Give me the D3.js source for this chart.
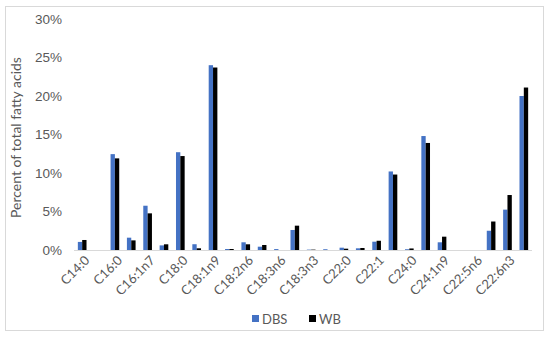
<!DOCTYPE html>
<html lang="en">
<head>
<meta charset="UTF-8" />
<title>Fatty acids DBS vs WB</title>
<script src="https://d3js.org/d3.v7.min.js"></script>
<style>
  body { margin: 0; background: #fff; }
  svg { font-family: Lato, "Open Sans", sans-serif; }
  .tick text { fill: #595959; }
</style>
</head>
<body>
<svg id="chart" width="550" height="339"></svg>
<script>
// 28 categories, Excel only shows every other label
const labels = ['C14:0', '', 'C16:0', '', 'C16:1n7', '', 'C18:0', '', 'C18:1n9', '',
  'C18:2n6', '', 'C18:3n6', '', 'C18:3n3', '', 'C22:0', '', 'C22:1', '',
  'C24:0', '', 'C24:1n9', '', 'C22:5n6', '', 'C22:6n3', '']
const dbs = [1.05, 0, 12.45, 1.6, 5.75, 0.6, 12.7, 0.75, 24.0, 0.13,
  1.0, 0.43, 0.12, 2.6, 0.05, 0.1, 0.3, 0.22, 1.08, 10.2,
  0.1, 14.8, 1.0, 0, 0, 2.5, 5.24, 20.0]
const wb = [1.3, 0, 11.9, 1.25, 4.76, 0.74, 12.2, 0.22, 23.7, 0.13,
  0.74, 0.65, 0, 3.16, 0.05, 0, 0.17, 0.26, 1.2, 9.8,
  0.2, 13.9, 1.73, 0, 0, 3.7, 7.14, 21.1]
const series = ['DBS', 'WB']
const colors = ['#4472C4', '#000000']
const yTicks = [0, 5, 10, 15, 20, 25, 30]

const svg = d3.select('#chart')
const margin = { left: 74, right: 18, top: 19, bottom: 89 }
const W = 550, H = 339

// chart frame
svg.append('rect')
  .attr('x', 5.5).attr('y', 6.5).attr('width', 538).attr('height', 324)
  .attr('fill', 'none').attr('stroke', '#d9d9d9')

const x = d3.scaleBand()
  .domain(d3.range(labels.length))
  .range([margin.left, W - margin.right])
  .paddingInner(0.47).paddingOuter(0.235)

const xs = d3.scaleBand().domain(series).range([0, x.bandwidth()])

const y = d3.scaleLinear().domain([0, 30]).range([H - margin.bottom, margin.top])

// y axis labels
const yAxis = svg.append('g')
  .attr('transform', `translate(${margin.left},0)`)
  .call(d3.axisLeft(y).tickValues(yTicks).tickFormat(d => d + '%').tickSize(0).tickPadding(12))
yAxis.select('.domain').remove()
yAxis.selectAll('text').attr('font-size', 13.5)

// bars
const data = [dbs, wb]
series.forEach((s, si) => {
  svg.append('g').selectAll('rect')
    .data(data[si])
    .join('rect')
    .attr('x', (d, i) => x(i) + xs(s))
    .attr('width', xs.bandwidth())
    .attr('y', d => y(d))
    .attr('height', d => y(0) - y(d))
    .attr('fill', colors[si])
})

// baseline
svg.append('line')
  .attr('x1', margin.left).attr('x2', W - margin.right)
  .attr('y1', y(0) + 0.5).attr('y2', y(0) + 0.5)
  .attr('stroke', '#d9d9d9')

// x labels, rotated
svg.append('g').selectAll('text')
  .data(labels.map((l, i) => ({ l, i })).filter(d => d.l))
  .join('text')
  .attr('transform', d => `translate(${x(d.i) + x.bandwidth() / 2 + 5},${y(0) + 8}) rotate(-45)`)
  .attr('text-anchor', 'end')
  .attr('dy', '0.35em')
  .attr('font-size', 13)
  .attr('fill', '#595959')
  .text(d => d.l)

// y title
svg.append('text')
  .attr('transform', `translate(21,${(y(0) + y(30)) / 2 + 3}) rotate(-90)`)
  .attr('text-anchor', 'middle')
  .attr('font-size', 14)
  .attr('fill', '#595959')
  .text('Percent of total fatty acids')

// legend
const legX = [252, 309]
const legend = svg.append('g')
series.forEach((s, i) => {
  legend.append('rect')
    .attr('x', legX[i]).attr('y', 315).attr('width', 7).attr('height', 7)
    .attr('fill', colors[i])
  legend.append('text')
    .attr('x', legX[i] + 10).attr('y', 319).attr('dy', '0.35em')
    .attr('font-size', 13).attr('fill', '#595959')
    .text(s)
})
</script>
</body>
</html>
